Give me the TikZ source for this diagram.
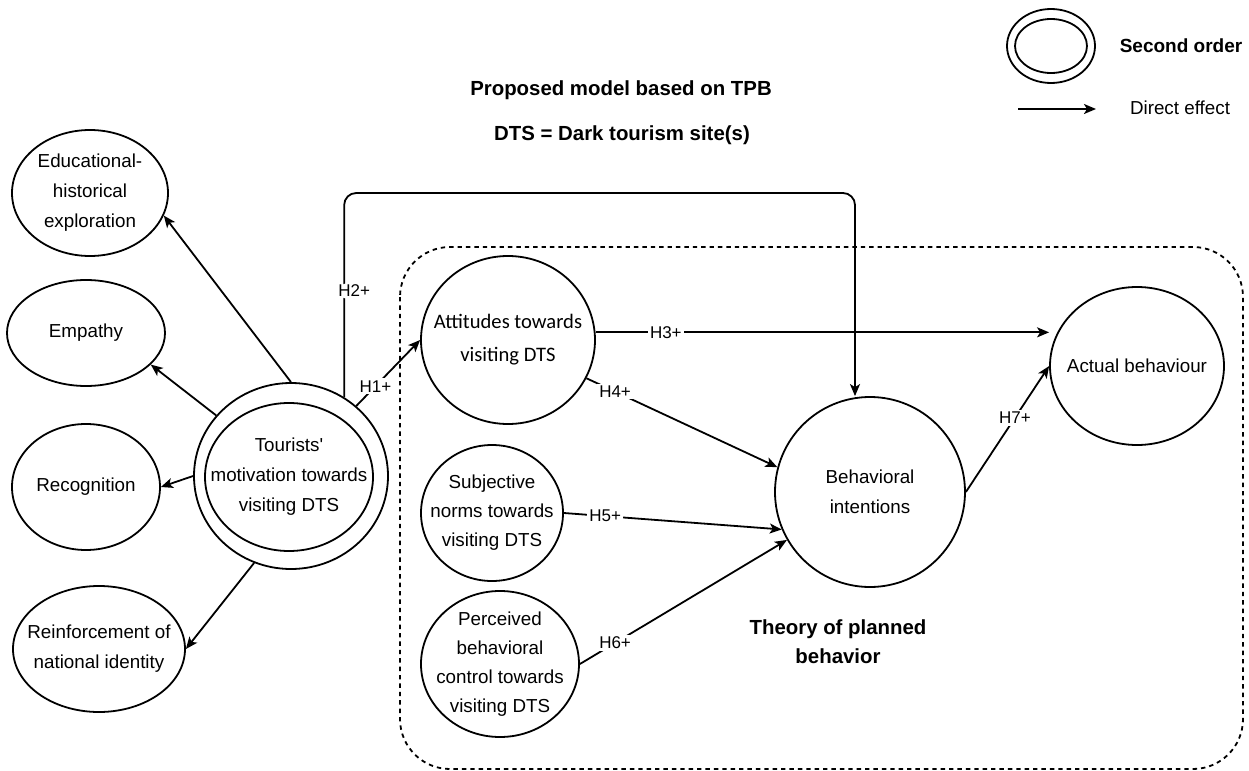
\documentclass[tikz,border=0pt]{standalone}
\usepackage{fontspec}
\setmainfont{Liberation Sans}
\newfontfamily\carlito{Carlito}
\usetikzlibrary{shapes.geometric, arrows.meta, positioning}
\tikzset{
    construct/.style={ % latent variables
        draw,
        ellipse,
        line width=0.9pt,
        inner sep=-10pt,
        align=center,
        font=\fontsize{9.4}{15}\selectfont
    },
    effect/.style={ % direct effects
        line width=0.9pt,
        -{Stealth[length=6pt,width=5pt,inset=1.5pt]}
    },
    hlabel/.style={
        fill=white,
        inner sep=1pt,
        font=\fontsize{8.5}{10}\selectfont
    },
    heading/.style={
        font=\fontsize{10.2}{14.5}\bfseries,
        align=center
    },
    frame/.style={
        draw,
        line width=0.9pt,
        dash pattern=on 2.2pt off 2pt,
        rounded corners=25pt
    }
}

\begin{document}
\begin{tikzpicture}[x=0.5pt, y=-0.5pt]
        \useasboundingbox (0,0) rectangle (1249,771);
        % rahmen TPB
        \draw[frame] (400,247) rectangle (1243,769);
        % ueberschrift
        \node[heading]                  (ttl)   at (621,90)     {Proposed model based on TPB};
        \node[heading]                  (dts)   at (622,135)    {DTS = Dark tourism site(s)};
        \node[heading]                  (tpb)   at (838,642)    {Theory of planned\\behavior};
        % legende
        \node[construct, minimum width=44pt, minimum height=37pt] (legout) at (1051,46) {};
        \node[construct, minimum width=36pt, minimum height=27pt] (legin)  at (1051,46) {};
        \node[heading, font=\fontsize{9.5}{12}\bfseries] (legso) at (1181,46) {Second order};
        \node[font=\fontsize{9.4}{12}\selectfont]        (legde) at (1180,108) {Direct effect};
        \coordinate (legA) at (1018,109);
        \coordinate (legB) at (1096,109);
        \draw[effect] (legA) -- (legB);
        % dimensionen der motivation
        \node[construct, minimum width=78pt, minimum height=63pt] (edu)   at (90,193)  {Educational-\\historical\\exploration};
        \node[construct, minimum width=79pt, minimum height=53pt] (emp)   at (86,333)  {Empathy};
        \node[construct, minimum width=74pt, minimum height=63pt] (rec)   at (86,487)  {Recognition};
        \node[construct, minimum width=86pt, minimum height=63pt] (reinf) at (99,649)  {Reinforcement of\\national identity};
        % second order
        \node[construct, minimum width=97pt, minimum height=93pt] (tm)    at (291,476) {};
        \node[construct, minimum width=84pt, minimum height=74pt] (tmin)  at (289,477) {Tourists\textquotesingle\\motivation towards\\visiting DTS};
        % TPB
        \node[construct, minimum width=87pt, minimum height=84pt,
              font=\carlito\fontsize{10.3}{16.5}\selectfont]      (att)   at (508,340) {Attitudes towards\\visiting DTS};
        \node[construct, minimum width=71pt, minimum height=68pt,
              font=\fontsize{9.4}{14.5}\selectfont]               (sn)    at (492,513) {Subjective\\norms towards\\visiting DTS};
        \node[construct, minimum width=79pt, minimum height=73pt,
              font=\fontsize{9.4}{14.5}\selectfont]               (pbc)   at (500,664) {Perceived\\behavioral\\control towards\\visiting DTS};
        \node[construct, minimum width=95pt, minimum height=95pt] (bi)    at (870,492) {Behavioral\\intentions};
        \node[construct, minimum width=87pt, minimum height=79pt] (act)   at (1137,366) {Actual behaviour};
        \coordinate (h2bend) at (855,193);

        \path[effect]
                % motivation
                (tm.north)  edge                            (edu.-17)
                (tm.141)    edge                            (emp.-26)
                (tm.west)   edge                            (rec.east)
                (tm.-113)   edge                            (reinf.east)
                % hypothesen
                (tm.47)     edge node[hlabel,pos=.3]{H1+}   (att.west)
                (att.5)     edge node[hlabel,pos=.155]{H3+} (att.5 -| act.west)
                (att.-26)   edge node[hlabel,pos=.15]{H4+}  (bi.165)
                (sn.east)   edge node[hlabel,pos=.19]{H5+}  (bi.203)
                (pbc.east)  edge node[hlabel,pos=.17]{H6+}  (bi.210)
                (bi.east)   edge node[hlabel,pos=.59]{H7+}  (act.west)
        ;
        \draw[effect, rounded corners=6pt]
                (tm.56) |- node[hlabel,pos=.26,xshift=5pt]{H2+} (h2bend)
                -- (h2bend |- bi.north);
    \end{tikzpicture}
\end{document}
